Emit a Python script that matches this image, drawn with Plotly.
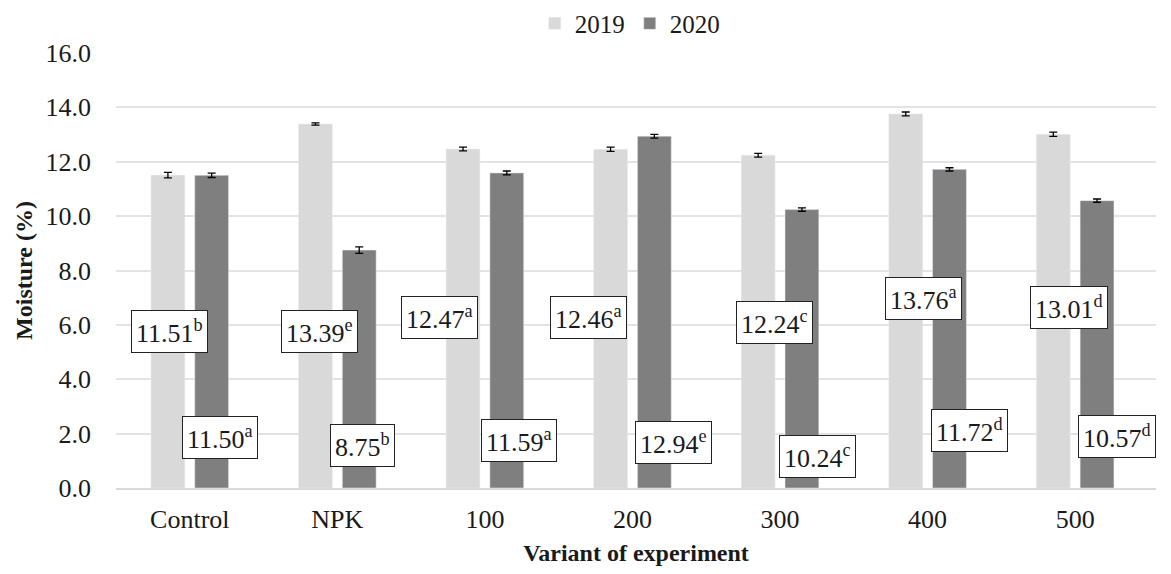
import plotly.graph_objects as go

categories = ["Control", "NPK", "100", "200", "300", "400", "500"]
series_names = ["2019", "2020"]
values_2019 = [11.51, 13.39, 12.47, 12.46, 12.24, 13.76, 13.01]
values_2020 = [11.50, 8.75, 11.59, 12.94, 10.24, 11.72, 10.57]
err_2019 = [0.10, 0.04, 0.07, 0.08, 0.07, 0.07, 0.08]
err_2020 = [0.08, 0.12, 0.07, 0.07, 0.06, 0.06, 0.06]
letters_2019 = ["b", "e", "a", "a", "c", "a", "d"]
letters_2020 = ["a", "b", "a", "e", "c", "d", "d"]
y_ticks = [0, 2, 4, 6, 8, 10, 12, 14, 16]

# label box placement (layout styling, not data)
lab19_y = [5.74, 5.74, 6.26, 6.26, 6.1, 6.96, 6.63]
lab19_dx = [2, 4, -24, -22, 16, 18, 16]
lab20_y = [1.87, 1.58, 1.76, 1.69, 1.17, 2.13, 1.91]
lab20_dx = [8, 3, 12, 19, 16, 20, 20]

FONT = "Liberation Serif"
light = "#d9d9d9"
dark = "#7f7f7f"
txt = "#1a1a1a"

fig = go.Figure()
fig.add_trace(go.Bar(
    name=series_names[0], x=categories, y=values_2019, marker_color=light,
    error_y=dict(type="data", array=err_2019, color="black", thickness=1.3, width=4),
))
fig.add_trace(go.Bar(
    name=series_names[1], x=categories, y=values_2020, marker_color=dark,
    error_y=dict(type="data", array=err_2020, color="black", thickness=1.3, width=4),
))

bar_off = 0.148
for i, c in enumerate(categories):
    fig.add_annotation(
        x=i - bar_off, y=lab19_y[i], xref="x", yref="y", xshift=lab19_dx[i],
        text=f"{values_2019[i]:.2f}<sup>{letters_2019[i]}</sup>", showarrow=False,
        font=dict(family=FONT, size=26, color=txt),
        bgcolor="white", bordercolor="#222", borderwidth=1, borderpad=4,
    )
    fig.add_annotation(
        x=i + bar_off, y=lab20_y[i], xref="x", yref="y", xshift=lab20_dx[i],
        text=f"{values_2020[i]:.2f}<sup>{letters_2020[i]}</sup>", showarrow=False,
        font=dict(family=FONT, size=26, color=txt),
        bgcolor="white", bordercolor="#222", borderwidth=1, borderpad=4,
    )

fig.update_layout(
    width=1155, height=558,
    margin=dict(l=108, r=7, t=45, b=78, autoexpand=False),
    paper_bgcolor="white", plot_bgcolor="white",
    barmode="group", bargap=0.407, bargroupgap=0.227,
    font=dict(family=FONT, size=26, color=txt),
    legend=dict(orientation="h", x=0.494, xanchor="center", xref="paper",
                y=0.972, yanchor="middle", yref="container",
                font=dict(family=FONT, size=25, color=txt), traceorder="normal",
                itemwidth=30, tracegroupgap=0),
    xaxis=dict(
        showgrid=False, showline=True, linecolor="#d9d9d9", linewidth=1.5,
        ticks="", tickfont=dict(family=FONT, size=26, color=txt),
        ticklabelstandoff=7,
        title=dict(text="<b>Variant of experiment</b>", font=dict(family=FONT, size=24, color=txt), standoff=11),
    ),
    yaxis=dict(
        range=[0, 16], tickvals=y_ticks, tickformat=".1f",
        showgrid=True, gridcolor="#e3e3e3", gridwidth=1.5, zeroline=False,
        ticks="", tickfont=dict(family=FONT, size=26, color=txt),
        ticklabelstandoff=24,
        title=dict(text="<b>Moisture (%)</b>", font=dict(family=FONT, size=24, color=txt), standoff=6),
    ),
)

fig.write_html("out.html")
